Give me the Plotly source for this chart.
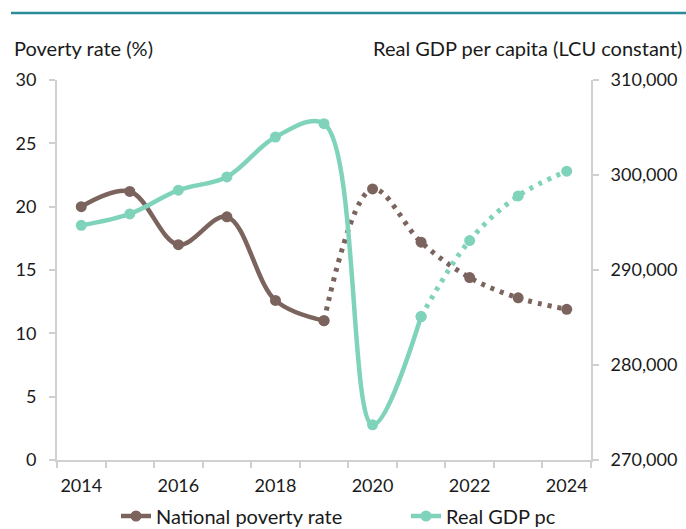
import plotly.graph_objects as go

years = [2014, 2015, 2016, 2017, 2018, 2019, 2020, 2021, 2022, 2023, 2024]
poverty = [20.0, 21.2, 17.0, 19.2, 12.6, 11.0, 21.4, 17.2, 14.4, 12.8, 11.9]
gdp = [294700, 295900, 298400, 299800, 304000, 305400, 273700, 285100, 293100, 297800, 300400]
pov_solid_end = 2019   # last actual poverty observation
gdp_solid_end = 2021   # last actual GDP observation
x_tick_labels = ["2014", "2016", "2018", "2020", "2022", "2024"]

BROWN = "#7b635e"
TEAL = "#80d3bb"
AXIS = "#d0d0d0"
FONT = "Lato"
FS_TICK = 18
FS_TEXT = 20
TXT = "#1a1a1a"

ip = years.index(pov_solid_end)
ig = years.index(gdp_solid_end)

fig = go.Figure()
fig.add_trace(go.Scatter(x=years[:ip + 1], y=poverty[:ip + 1], mode="lines+markers",
                         name="National poverty rate", legend="legend",
                         line=dict(color=BROWN, width=4.5, shape="spline", smoothing=1.0),
                         marker=dict(size=11, color=BROWN)))
fig.add_trace(go.Scatter(x=years[ip:], y=poverty[ip:], mode="lines+markers",
                         showlegend=False,
                         line=dict(color=BROWN, width=5, shape="spline", smoothing=1.0, dash="4px,6px"),
                         marker=dict(size=11, color=BROWN)))
fig.add_trace(go.Scatter(x=years[:ig + 1], y=gdp[:ig + 1], mode="lines+markers",
                         name="Real GDP pc", yaxis="y2", legend="legend2",
                         line=dict(color=TEAL, width=4.5, shape="spline", smoothing=1.0),
                         marker=dict(size=11, color=TEAL)))
fig.add_trace(go.Scatter(x=years[ig:], y=gdp[ig:], mode="lines+markers",
                         showlegend=False, yaxis="y2",
                         line=dict(color=TEAL, width=5, shape="spline", smoothing=1.0, dash="4px,6px"),
                         marker=dict(size=11, color=TEAL)))

legend_common = dict(orientation="h", xref="container", yref="container",
                     y=13 / 529, xanchor="left", yanchor="middle",
                     font=dict(family=FONT, size=FS_TEXT, color=TXT),
                     bgcolor="rgba(0,0,0,0)")

fig.update_layout(
    width=686, height=529,
    margin=dict(l=57, r=95, t=80, b=69, autoexpand=False),
    paper_bgcolor="white", plot_bgcolor="white",
    font=dict(family=FONT, size=FS_TICK, color=TXT),
    xaxis=dict(range=[2013.5, 2024.5], tickmode="array",
               tickvals=[int(v) for v in x_tick_labels], ticktext=x_tick_labels,
               ticks="", showgrid=False, zeroline=False,
               showline=True, linecolor=AXIS, linewidth=2,
               ticklabelstandoff=8,
               minor=dict(tickmode="linear", tick0=2013.5, dtick=1, ticks="outside",
                          ticklen=6, tickcolor=AXIS, tickwidth=2, showgrid=False)),
    yaxis=dict(range=[0, 30], dtick=5, showgrid=False, zeroline=False,
               showline=True, linecolor=AXIS, linewidth=2,
               ticks="outside", ticklen=6, tickcolor=AXIS, tickwidth=2,
               ticklabelstandoff=9),
    yaxis2=dict(range=[270000, 310000], dtick=10000, tickformat=",",
                overlaying="y", side="right", showgrid=False, zeroline=False,
                showline=True, linecolor=AXIS, linewidth=2,
                ticks="outside", ticklen=6, tickcolor=AXIS, tickwidth=2,
                ticklabelstandoff=8),
    legend=dict(legend_common, x=116 / 686),
    legend2=dict(legend_common, x=406 / 686),
    showlegend=True,
)

fig.add_annotation(text="Poverty rate (%)", xref="paper", yref="paper",
                   x=-45 / 534, y=(460 - 48) / 380, xanchor="left", yanchor="middle",
                   showarrow=False, font=dict(family=FONT, size=FS_TEXT, color=TXT))
fig.add_annotation(text="Real GDP per capita (LCU constant)", xref="paper", yref="paper",
                   x=(684 - 57) / 534, y=(460 - 48) / 380, xanchor="right", yanchor="middle",
                   showarrow=False, font=dict(family=FONT, size=FS_TEXT, color=TXT))
fig.add_shape(type="line", xref="paper", yref="paper",
              x0=(11 - 57) / 534, x1=(686 - 57) / 534,
              y0=(460 - 13) / 380, y1=(460 - 13) / 380,
              line=dict(color="#2b8b99", width=2.5))

fig.write_html("out.html", config={"displayModeBar": False},
               post_script="document.body.style.margin='0';")
